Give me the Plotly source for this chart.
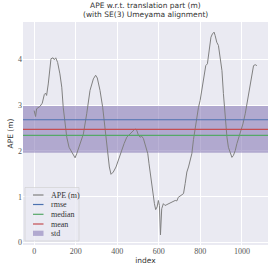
import plotly.graph_objects as go

# APE curve (index, value in m)
ape_index = [0, 7, 12, 28, 39, 49, 55, 60, 68, 75, 81, 91, 97, 104, 113, 124, 133, 140, 148,
             157, 168, 181, 188, 197, 205, 213, 221, 230, 237, 253, 269, 285, 296, 304, 317,
             330, 341, 352, 362, 370, 381, 394, 405, 413, 422, 433, 446, 462, 475, 486, 494,
             502, 510, 518, 526, 534, 547, 553, 561, 569, 579, 585, 592, 598, 603, 608, 611,
             614, 622, 630, 639, 654, 666, 679, 687, 694, 707, 719, 727, 735, 743, 751, 759,
             767, 775, 780, 791, 799, 807, 818, 826, 834, 842, 851, 858, 866, 871, 879, 887,
             895, 904, 911, 919, 928, 935, 944, 952, 959, 968, 976, 992, 1005, 1016, 1027,
             1040, 1048, 1056, 1064, 1072]
ape_value = [2.88, 2.75, 2.92, 2.97, 3.04, 3.23, 3.26, 3.21, 3.46, 3.83, 4.01, 4.03, 3.99, 4.03,
             3.93, 3.68, 3.39, 2.95, 2.66, 2.30, 2.08, 1.97, 1.90, 1.85, 1.94, 2.05, 2.15, 2.30,
             2.37, 2.81, 3.32, 3.57, 3.65, 3.59, 3.32, 2.95, 2.45, 1.94, 1.65, 1.49, 1.54, 1.65,
             1.79, 1.94, 2.01, 2.16, 2.30, 2.37, 2.41, 2.48, 2.45, 2.34, 2.30, 2.32, 2.27, 2.16,
             1.94, 1.72, 1.43, 1.14, 0.85, 0.72, 0.78, 0.92, 0.81, 0.17, 0.49, 0.74, 0.85, 0.81,
             0.83, 0.86, 0.88, 0.92, 0.91, 0.99, 1.03, 1.07, 1.29, 1.54, 1.65, 1.79, 1.94, 2.25,
             2.52, 2.66, 2.95, 3.10, 3.32, 3.68, 3.86, 3.90, 4.19, 4.48, 4.55, 4.59, 4.52, 4.37,
             4.30, 4.04, 3.75, 3.25, 2.74, 2.30, 2.08, 1.94, 1.86, 1.90, 2.01, 2.16, 2.37, 2.59,
             2.81, 3.10, 3.46, 3.68, 3.86, 3.88, 3.86]

# statistics
rmse = 2.68
median = 2.34
mean = 2.47
std = 0.51

x_ticks = [0, 200, 400, 600, 800, 1000]
y_ticks = [0, 1, 2, 3, 4]

title_lines = ["APE w.r.t. translation part (m)", "(with SE(3) Umeyama alignment)"]
legend_names = ["APE (m)", "rmse", "median", "mean", "std"]
legend_colors = ["#808080", "#4C72B0", "#55A868", "#C44E52", "rgba(129,114,178,0.55)"]

n_last = ape_index[-1]
x_lo, x_hi = -0.05 * n_last, 1.05 * n_last
y_min, y_max = min(ape_value), max(ape_value)
pad = 0.05 * (y_max - y_min)
y_lo, y_hi = y_min - pad, y_max + pad

serif = "Liberation Serif"
sans = "DejaVu Sans"

W, H = 270, 269
ML, MR, MT, MB = 23, 2, 22, 24
PW, PH = W - ML - MR, H - MT - MB


def px(x):
    return (x - ML) / PW


def py(y):
    return (H - MB - y) / PH


fig = go.Figure()
fig.add_trace(go.Scatter(x=[x_lo, x_hi, x_hi, x_lo, x_lo],
                         y=[mean - std, mean - std, mean + std, mean + std, mean - std],
                         mode="lines", fill="toself", name="std",
                         fillcolor=legend_colors[4], line=dict(width=0)))
fig.add_trace(go.Scatter(x=ape_index, y=ape_value, mode="lines", name=legend_names[0],
                         line=dict(color=legend_colors[0], width=1)))
fig.add_trace(go.Scatter(x=[x_lo, x_hi], y=[rmse, rmse], mode="lines", name="rmse",
                         line=dict(color=legend_colors[1], width=1.2)))
fig.add_trace(go.Scatter(x=[x_lo, x_hi], y=[median, median], mode="lines", name="median",
                         line=dict(color=legend_colors[2], width=1.2)))
fig.add_trace(go.Scatter(x=[x_lo, x_hi], y=[mean, mean], mode="lines", name="mean",
                         line=dict(color=legend_colors[3], width=1.2)))

# hand-built legend (matplotlib-style compact box)
shapes = [dict(type="rect", xref="paper", yref="paper",
               x0=px(25), x1=px(79), y0=py(241), y1=py(187.5),
               fillcolor="rgba(234,234,242,0.8)", line=dict(color="#CCCCCC", width=0.6))]
annotations = []
row_y = [195, 204.5, 214.3, 224, 233.3]
for i, (name, col) in enumerate(zip(legend_names, legend_colors)):
    yy = row_y[i]
    if name == "std":
        shapes.append(dict(type="rect", xref="paper", yref="paper",
                           x0=px(33), x1=px(43.5), y0=py(yy + 2.6), y1=py(yy - 2.6),
                           fillcolor=col, line=dict(width=0)))
    else:
        shapes.append(dict(type="line", xref="paper", yref="paper",
                           x0=px(33), x1=px(43.5), y0=py(yy), y1=py(yy),
                           line=dict(color=col, width=1.2)))
    annotations.append(dict(text=name, xref="paper", yref="paper", x=px(49), y=py(yy),
                            xanchor="left", yanchor="middle", showarrow=False,
                            font=dict(family=serif, size=8, color="#333333")))

for line_text, yy in zip(title_lines, [5.5, 14.5]):
    annotations.append(dict(text=line_text, xref="paper", yref="paper", x=px(145.5), y=py(yy),
                            xanchor="center", yanchor="middle", showarrow=False,
                            font=dict(family=sans, size=7.5, color="#333333")))

fig.update_layout(
    width=W, height=H,
    margin=dict(l=ML, r=MR, t=MT, b=MB),
    paper_bgcolor="white", plot_bgcolor="#EAEAF2",
    showlegend=False,
    shapes=shapes,
    annotations=annotations,
    font=dict(family=serif, size=8, color="#444444"),
)
fig.update_xaxes(range=[x_lo, x_hi], tickvals=x_ticks, ticktext=[str(t) for t in x_ticks],
                 showgrid=True, gridcolor="white", gridwidth=1, zeroline=False,
                 ticks="", showline=False,
                 title=dict(text="index", font=dict(family=sans, size=7.5, color="#333333"),
                            standoff=1),
                 tickfont=dict(family=serif, size=8, color="#555555"))
fig.update_yaxes(range=[y_lo, y_hi], tickvals=y_ticks, ticktext=[str(t) for t in y_ticks],
                 showgrid=True, gridcolor="white", gridwidth=1, zeroline=False,
                 ticks="", showline=False,
                 title=dict(text="APE (m)", font=dict(family=sans, size=7.5, color="#333333"),
                            standoff=3),
                 tickfont=dict(family=serif, size=8, color="#555555"))

fig.write_html("out.html", config={"displayModeBar": False},
               post_script="document.body.style.margin='0';")
